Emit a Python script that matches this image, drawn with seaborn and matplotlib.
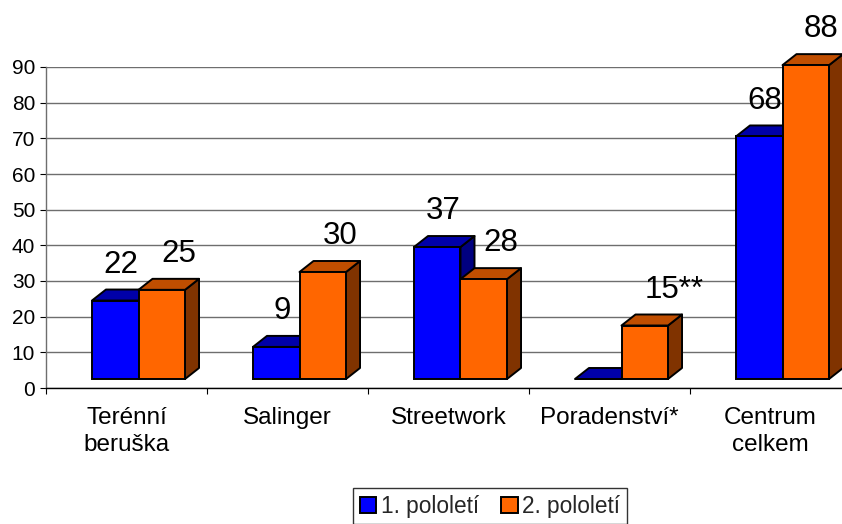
import numpy as np
import pandas as pd
import matplotlib
matplotlib.use("Agg")
import matplotlib.pyplot as plt
import seaborn as sns
from matplotlib.patches import Polygon, Patch
from matplotlib.ticker import FixedLocator

# Data
categories = ["Terénní\nberuška", "Salinger", "Streetwork", "Poradenství*", "Centrum\ncelkem"]
series_names = ["1. pololetí", "2. pololetí"]
first_half = [22, 9, 37, 0, 68]
second_half = [25, 30, 28, 15, 88]
first_labels = ["22", "9", "37", "", "68"]
second_labels = ["25", "30", "28", "15**", "88"]

# Colours: front, top, side for each series
front_colors = ["#0000FF", "#FF6600"]
top_colors = ["#0000A8", "#C04E00"]
side_colors = ["#000080", "#803300"]

df = pd.DataFrame({
    "kategorie": categories * 2,
    "pololeti": [series_names[0]] * len(categories) + [series_names[1]] * len(categories),
    "hodnota": first_half + second_half,
})

sns.set_theme(style="white")
plt.rcParams['font.family'] = ['Liberation Sans', 'DejaVu Sans']

W, H = 842, 524
fig = plt.figure(figsize=(W / 100, H / 100), dpi=100)
# axes box: back wall from y=67 (90) to y=388 (0), x from 46 to right edge
ax = fig.add_axes([46 / W, 1 - 388 / H, 1 - 46 / W, 321 / H])

sns.barplot(data=df, x="kategorie", y="hodnota", hue="pololeti",
            palette=front_colors, width=0.578, edgecolor="black", linewidth=1.4,
            saturation=1, legend=False, ax=ax)

ax.set_xlim(-0.5, -0.5 + (W - 46) / 161)
ax.set_ylim(0, 90)

# pseudo-3D geometry (in data units)
px_x = 1 / 161          # one pixel in x data units
px_y = 90 / 321         # one pixel in y data units
shift_x = 12 * px_x     # Excel draws the bar fronts slightly right/up
shift_y = 9 * px_y
depth_x = 14 * px_x
depth_y = 11 * px_y

n = len(categories)
labels_all = [first_labels, second_labels]
texts = []
for i, bar in enumerate(ax.patches[:2 * n]):
    s = i // n
    x0 = bar.get_x() + shift_x
    w = bar.get_width()
    h = bar.get_height()
    y0 = shift_y
    y1 = y0 + h
    bar.set_x(x0)
    bar.set_y(y0)
    bar.set_zorder(3 + 2 * s + 0.5)
    bar.set_clip_on(False)
    side = Polygon([(x0 + w, y0), (x0 + w + depth_x, y0 + depth_y),
                    (x0 + w + depth_x, y1 + depth_y), (x0 + w, y1)],
                   closed=True, facecolor=side_colors[s], edgecolor="black",
                   linewidth=1.4, zorder=3 + 2 * s, joinstyle="round", clip_on=False)
    top = Polygon([(x0, y1), (x0 + depth_x, y1 + depth_y),
                   (x0 + w + depth_x, y1 + depth_y), (x0 + w, y1)],
                  closed=True, facecolor=top_colors[s], edgecolor="black",
                  linewidth=1.4, zorder=3 + 2 * s, joinstyle="round", clip_on=False)
    ax.add_patch(side)
    ax.add_patch(top)

    lab = labels_all[s][i % n]
    if lab:
        if s == 0:
            t = ax.annotate(lab, (x0 + w / 2, y1 + depth_y), xytext=(4, 12),
                            textcoords="offset points", ha="center", va="baseline",
                            fontsize=22.5, color="black", annotation_clip=False, zorder=10)
        else:
            t = ax.annotate(lab, (x0 + w / 2, y1 + depth_y), xytext=(0, 12),
                            textcoords="offset points", ha="left", va="baseline",
                            fontsize=22.5, color="black", annotation_clip=False, zorder=10)
        texts.append(t)

# axes styling
ax.yaxis.set_major_locator(FixedLocator(np.arange(0, 91, 10)))
ax.grid(axis="y", color="#6e6e6e", linewidth=1.0)
ax.grid(axis="x", visible=False)
ax.set_axisbelow(True)
for sp in ["top", "right"]:
    ax.spines[sp].set_visible(False)
ax.spines["bottom"].set_color("black")
ax.spines["bottom"].set_linewidth(1.0)
ax.spines["left"].set_color("#6e6e6e")
ax.spines["left"].set_linewidth(1.0)

ax.tick_params(axis="y", which="major", direction="out", length=4.3, width=0.8,
               color="black", pad=3.5, labelsize=15, labelcolor="black", left=True)
ax.xaxis.set_minor_locator(FixedLocator(np.arange(-0.5, n, 1.0)))
ax.tick_params(axis="x", which="major", length=0, pad=14, labelsize=17.5,
               labelcolor="black", bottom=False)
ax.tick_params(axis="x", which="minor", direction="out", length=4.3, width=0.8,
               color="black", bottom=True)
ax.set_xticks(range(n))
ax.set_xticklabels(categories, linespacing=1.28)
ax.set_xlabel("")
ax.set_ylabel("")

# keep the labels inside the figure
fig.canvas.draw()
renderer = fig.canvas.get_renderer()
for t in texts:
    bb = t.get_window_extent(renderer)
    if bb.x1 > W - 4:
        dx_pt = (bb.x1 - (W - 4)) * 72 / 100
        ox, oy = t.xyann
        t.xyann = (ox - dx_pt, oy)

handles = [Patch(facecolor=c, edgecolor="black", linewidth=1.4) for c in front_colors]
leg = fig.legend(handles, series_names, loc="center",
                 bbox_to_anchor=(490 / W, 1 - 506 / H), ncol=2, frameon=True,
                 fancybox=False, shadow=False, fontsize=16.3,
                 handlelength=0.72, handleheight=0.72, handletextpad=0.2,
                 columnspacing=1.0, borderpad=0.3, borderaxespad=0)
leg.get_frame().set_edgecolor("black")
leg.get_frame().set_linewidth(1.0)

fig.savefig("out.png", dpi=100, facecolor="white")
